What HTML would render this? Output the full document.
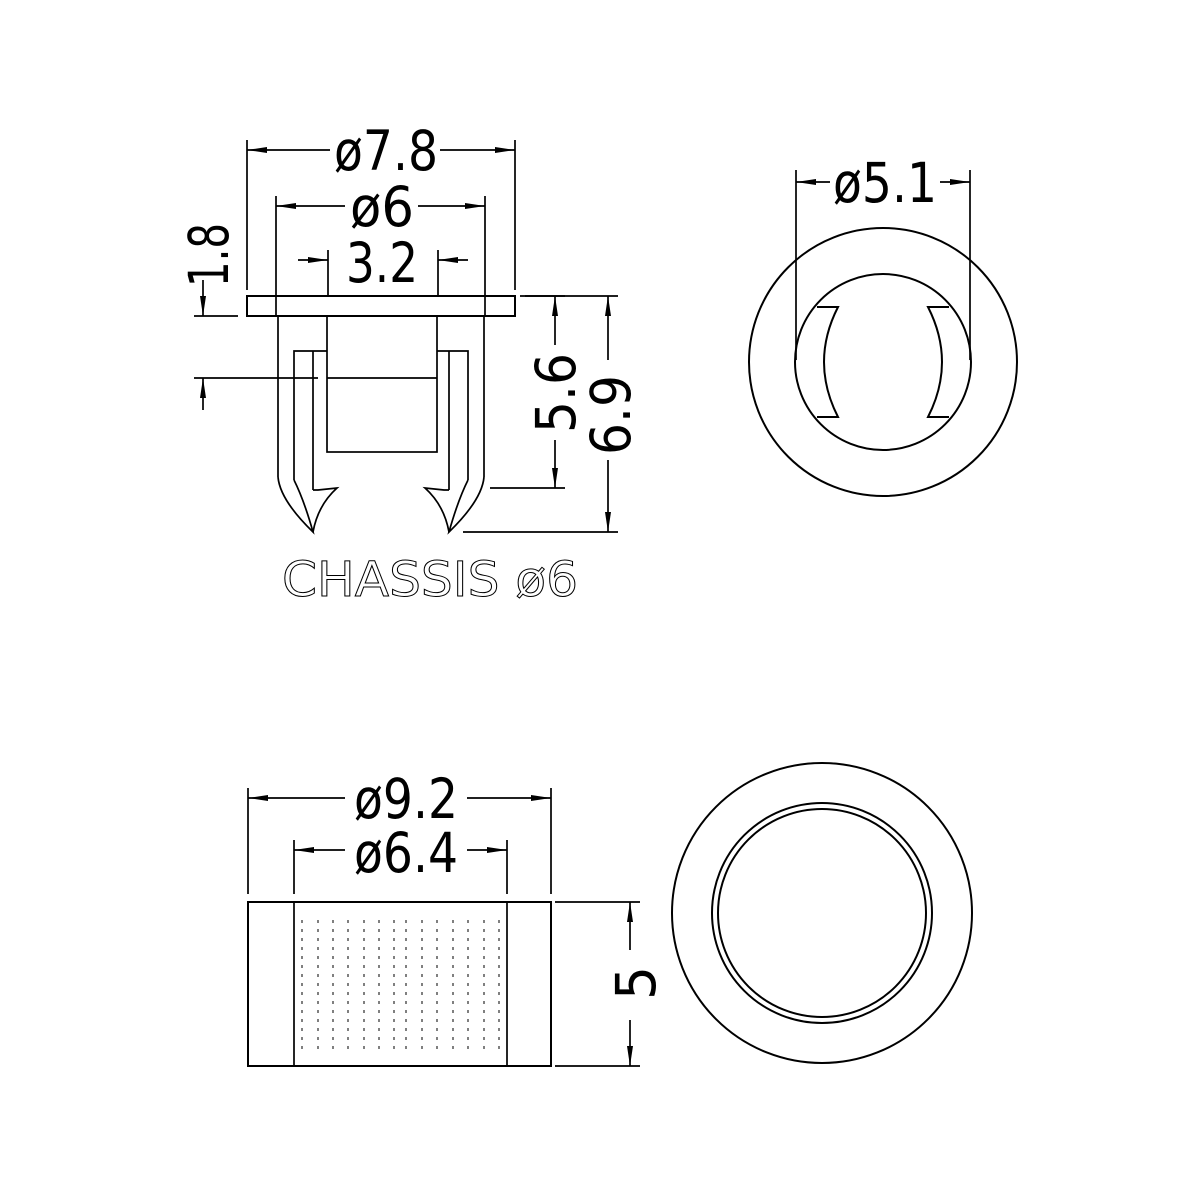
<!DOCTYPE html>
<html><head><meta charset="utf-8"><style>html,body{margin:0;padding:0;background:#fff}svg{display:block}</style></head><body>
<svg width="1200" height="1200" viewBox="0 0 1200 1200" xmlns="http://www.w3.org/2000/svg">
<defs>
<marker id="a" viewBox="0 0 10 10" refX="10" refY="5" markerWidth="20" markerHeight="6" markerUnits="userSpaceOnUse" orient="auto-start-reverse" preserveAspectRatio="none"><path d="M0,0L10,5L0,10z" fill="#000"/></marker>
</defs>
<g stroke="#000" stroke-width="1.7" fill="none">
<rect x="247" y="296" width="268" height="20" stroke-width="2"/>
<line x1="247" y1="140" x2="247" y2="290"/><line x1="515" y1="140" x2="515" y2="290"/>
<line x1="247" y1="150" x2="330" y2="150" marker-start="url(#a)"/><line x1="440" y1="150" x2="515" y2="150" marker-end="url(#a)"/>
<line x1="276" y1="196" x2="276" y2="316"/><line x1="485" y1="196" x2="485" y2="316"/>
<line x1="276" y1="206" x2="345" y2="206" marker-start="url(#a)"/><line x1="418" y1="206" x2="485" y2="206" marker-end="url(#a)"/>
<line x1="328" y1="250" x2="328" y2="296"/><line x1="438" y1="250" x2="438" y2="296"/>
<line x1="298" y1="260" x2="328" y2="260" marker-end="url(#a)"/><line x1="468" y1="260" x2="438" y2="260" marker-end="url(#a)"/>
<line x1="278" y1="316" x2="278" y2="477"/><line x1="484" y1="316" x2="484" y2="477"/>
<rect x="327" y="316" width="110" height="136"/>
<path d="M294,480V351H327M313,351V490M437,351H468V480M449,351V490"/>
<path d="M278,477Q280,500 313,532Q304,500 294,480"/>
<path d="M313,490H318L337,488Q318,505 313,532"/>
<path d="M484,477Q482,500 449,532Q458,500 468,480"/>
<path d="M449,490H444L425,488Q444,505 449,532"/>
<line x1="194" y1="316" x2="238" y2="316"/><line x1="194" y1="378" x2="318" y2="378"/><line x1="327" y1="378" x2="437" y2="378"/>
<line x1="203" y1="280" x2="203" y2="316" marker-end="url(#a)"/><line x1="203" y1="410" x2="203" y2="378" marker-end="url(#a)"/>
<line x1="525" y1="296" x2="565" y2="296"/><line x1="490" y1="488" x2="565" y2="488"/>
<line x1="555" y1="345" x2="555" y2="296" marker-end="url(#a)"/><line x1="555" y1="440" x2="555" y2="488" marker-end="url(#a)"/>
<line x1="520" y1="296" x2="618" y2="296"/><line x1="463" y1="532" x2="618" y2="532"/>
<line x1="608" y1="360" x2="608" y2="296" marker-end="url(#a)"/><line x1="608" y1="460" x2="608" y2="532" marker-end="url(#a)"/>
<circle cx="883" cy="362" r="134" stroke-width="2"/>
<circle cx="883" cy="362" r="88" stroke-width="2"/>
<path d="M817,307H838Q810,362 838,417H817" stroke-width="2"/>
<path d="M949,307H928Q956,362 928,417H949" stroke-width="2"/>
<line x1="796" y1="170" x2="796" y2="360"/><line x1="970" y1="170" x2="970" y2="360"/>
<line x1="796" y1="182" x2="830" y2="182" marker-start="url(#a)"/><line x1="940" y1="182" x2="970" y2="182" marker-end="url(#a)"/>
<rect x="248" y="902" width="303" height="164" stroke-width="2"/>
<line x1="248" y1="788" x2="248" y2="894"/><line x1="551" y1="788" x2="551" y2="894"/>
<line x1="248" y1="798" x2="345" y2="798" marker-start="url(#a)"/><line x1="467" y1="798" x2="551" y2="798" marker-end="url(#a)"/>
<line x1="294" y1="840" x2="294" y2="894"/><line x1="507" y1="840" x2="507" y2="894"/>
<line x1="294" y1="850" x2="345" y2="850" marker-start="url(#a)"/><line x1="467" y1="850" x2="507" y2="850" marker-end="url(#a)"/>
<line x1="294" y1="902" x2="294" y2="1066"/><line x1="507" y1="902" x2="507" y2="1066"/>
<g stroke-dasharray="3,6" stroke-width="1">
<line x1="302" y1="920" x2="302" y2="1052"/><line x1="318" y1="920" x2="318" y2="1052"/><line x1="333" y1="920" x2="333" y2="1052"/><line x1="348" y1="920" x2="348" y2="1052"/><line x1="364" y1="920" x2="364" y2="1052"/><line x1="379" y1="920" x2="379" y2="1052"/><line x1="394" y1="920" x2="394" y2="1052"/><line x1="406" y1="920" x2="406" y2="1052"/><line x1="422" y1="920" x2="422" y2="1052"/><line x1="437" y1="920" x2="437" y2="1052"/><line x1="453" y1="920" x2="453" y2="1052"/><line x1="468" y1="920" x2="468" y2="1052"/><line x1="484" y1="920" x2="484" y2="1052"/><line x1="499" y1="920" x2="499" y2="1052"/>
</g>
<line x1="555" y1="902" x2="640" y2="902"/><line x1="555" y1="1066" x2="640" y2="1066"/>
<line x1="630" y1="950" x2="630" y2="902" marker-end="url(#a)"/><line x1="630" y1="1020" x2="630" y2="1066" marker-end="url(#a)"/>
<circle cx="822" cy="913" r="150" stroke-width="2"/>
<circle cx="822" cy="913" r="110" stroke-width="2"/>
<circle cx="822" cy="913" r="104" stroke-width="2"/>
</g>
<g font-family="'DejaVu Sans','Liberation Sans',sans-serif" font-size="55" fill="#000" text-anchor="middle">
<text x="386" y="170" textLength="104" lengthAdjust="spacingAndGlyphs">ø7.8</text>
<text x="382" y="226" textLength="64" lengthAdjust="spacingAndGlyphs">ø6</text>
<text x="382" y="282" textLength="72" lengthAdjust="spacingAndGlyphs">3.2</text>
<text x="885" y="202" textLength="104" lengthAdjust="spacingAndGlyphs">ø5.1</text>
<text x="406" y="818" textLength="104" lengthAdjust="spacingAndGlyphs">ø9.2</text>
<text x="406" y="872" textLength="104" lengthAdjust="spacingAndGlyphs">ø6.4</text>
<text transform="translate(228,255) rotate(-90)" textLength="64" lengthAdjust="spacingAndGlyphs">1.8</text>
<text transform="translate(575,393) rotate(-90)" textLength="80" lengthAdjust="spacingAndGlyphs">5.6</text>
<text transform="translate(630,415) rotate(-90)" textLength="80" lengthAdjust="spacingAndGlyphs">6.9</text>
<text transform="translate(655,983) rotate(-90)" textLength="34" lengthAdjust="spacingAndGlyphs">5</text>
<text x="430" y="596" font-size="48" fill="#fff" stroke="#000" stroke-width="1" textLength="296" lengthAdjust="spacingAndGlyphs">CHASSIS ø6</text>
</g>
</svg>
</body></html>
